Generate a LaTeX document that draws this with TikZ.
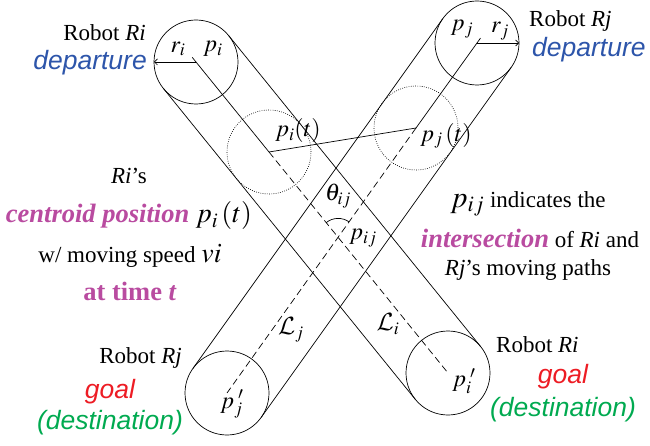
\documentclass[tikz,border=0pt]{standalone}
\usepackage{mathptmx}
\usepackage{fontspec}
\setmainfont{Liberation Serif}
\setsansfont{Liberation Sans}
\DeclareMathAlphabet{\mathcal}{OMS}{cmsy}{m}{n}
\usetikzlibrary{calc,arrows.meta,angles}
\definecolor{dblue}{RGB}{45,85,170}
\definecolor{gred}{RGB}{237,28,36}
\definecolor{dgreen}{RGB}{0,170,80}
\definecolor{mag}{RGB}{185,75,160}
\tikzset{
  txt/.style={font=\fontsize{23}{27}\selectfont, inner sep=0pt},
  sanstxt/.style={font=\fontsize{26.5}{30}\selectfont\sffamily\itshape, inner sep=0pt},
  magtxt/.style={font=\fontsize{26.5}{30}\selectfont\bfseries, text=mag, inner sep=0pt},
  mlbl/.style={font=\fontsize{24}{28}\selectfont, inner sep=0pt},
  robot/.style={line width=0.7pt},
  pathline/.style={line width=0.7pt},
  dashline/.style={line width=0.7pt, dash pattern=on 7pt off 4pt},
  dotcirc/.style={line width=0.6pt, dash pattern=on 0.8pt off 1.4pt},
}
\begin{document}
\begin{tikzpicture}[x=1pt,y=-1pt]
\useasboundingbox (0,0) rectangle (650,446);
% centres
\coordinate (PI) at (196,62);
\coordinate (PIg) at (448,373);
\coordinate (PJ) at (477,43);
\coordinate (PJg) at (227,393);
\coordinate (PIt) at (269,152);
\coordinate (PJt) at (416,128);
\coordinate (PIJ) at (intersection of PI--PIg and PJ--PJg);
% robot circles
\draw[robot] (PI) circle[radius=42pt];
\draw[robot] (PIg) circle[radius=42pt];
\draw[robot] (PJ) circle[radius=42pt];
\draw[robot] (PJg) circle[radius=42pt];
\draw[dotcirc] (PIt) circle[radius=42pt];
\draw[dotcirc] (PJt) circle[radius=42pt];
% tubes
\draw[pathline] ($(PI)!42pt!90:(PIg)$) -- ($(PIg)!42pt!-90:(PI)$);
\draw[pathline] ($(PI)!42pt!-90:(PIg)$) -- ($(PIg)!42pt!90:(PI)$);
\draw[pathline] ($(PJ)!42pt!90:(PJg)$) -- ($(PJg)!42pt!-90:(PJ)$);
\draw[pathline] ($(PJ)!42pt!-90:(PJg)$) -- ($(PJg)!42pt!90:(PJ)$);
% centre lines
\draw[pathline] ($(PI)!-6pt!(PIg)$) -- (PIt);
\draw[dashline] (PIt) -- (PIg);
\draw[pathline] ($(PJ)!-6pt!(PJg)$) -- (PJt);
\draw[dashline] (PJt) -- (PJg);
\draw[pathline] (PIt) -- (PJt);
% radii
\draw[pathline,-{Straight Barb[length=3pt,width=6pt]}] (PI) -- ++(-42,0) coordinate (RIe);
\draw[pathline,-{Straight Barb[length=3pt,width=6pt]}] (PJ) -- ++(42,0) coordinate (RJe);
% angle
\pic[draw, line width=0.7pt, angle radius=19pt] {angle = PJ--PIJ--PI};
% math labels
\node[mlbl] (lri) at (178,49) {$r_i$};
\node[mlbl] (lpi) at (213,49) {$p_i$};
\node[mlbl] (lpj) at (462,29) {$p_j$};
\node[mlbl] (lrj) at (500,31) {$r_j$};
\node[mlbl] (lpit) at (298,131) {$p_i(t)$};
\node[mlbl] (lpjt) at (446,136) {$p_j\,(t)$};
\node[mlbl] (lth) at (338,196) {$\theta_{ij}$};
\node[mlbl] (lpij) at (363,238) {$p_{ij}$};
\node[mlbl] (lLj) at (291,330) {$\mathcal{L}_j$};
\node[mlbl] (lLi) at (388,324) {$\mathcal{L}_i$};
\node[mlbl] (lpjp) at (232,404) {$p_j^{\;\prime}$};
\node[mlbl] (lpip) at (464,381) {$p_i^{\;\prime}$};
% texts top-left
\node[txt, anchor=east] (rti) at (146,33) {Robot \textit{Ri}};
\node[sanstxt, anchor=east, text=dblue] (depi) at (147,63) {departure};
% top-right
\node[txt, anchor=west] (rtj) at (529,21) {Robot \textit{Rj}};
\node[sanstxt, anchor=west, text=dblue] (depj) at (532,50) {departure};
% left middle
\node[txt] (ris) at (129,176) {\textit{Ri}’s};
\node[inner sep=0pt] (cent) at (129,216) {\fontsize{26.5}{30}\selectfont\bfseries\itshape\color{mag}centroid position\ \color{black}\normalfont\fontsize{28}{30}\selectfont$p_i\,(t)$};
\node[txt] (speed) at (130,256) {w/ moving speed {\fontsize{28}{30}\selectfont$vi$}};
\node[magtxt] (attime) at (130,291) {at time \textit{t}};
% right middle
\node[txt] (ind) at (528,204) {{\fontsize{30}{30}\selectfont$p_{ij}$} indicates the};
\node[txt] (inter) at (530,238) {{\fontsize{26.5}{30}\selectfont\bfseries\itshape\color{mag}intersection} of \textit{Ri} and};
\node[txt] (paths) at (528,270) {\textit{Rj}’s moving paths};
% bottom-left
\node[txt, anchor=east] (rbj) at (182,358) {Robot \textit{Rj}};
\node[sanstxt, text=gred] (goalj) at (110,392) {goal};
\node[sanstxt, text=dgreen] (destj) at (110,423) {(destination)};
% bottom-right
\node[txt, anchor=west] (rbi) at (496,345) {Robot \textit{Ri}};
\node[sanstxt, text=gred] (goali) at (563,377) {goal};
\node[sanstxt, text=dgreen] (desti) at (563,410) {(destination)};
\end{tikzpicture}
\end{document}
